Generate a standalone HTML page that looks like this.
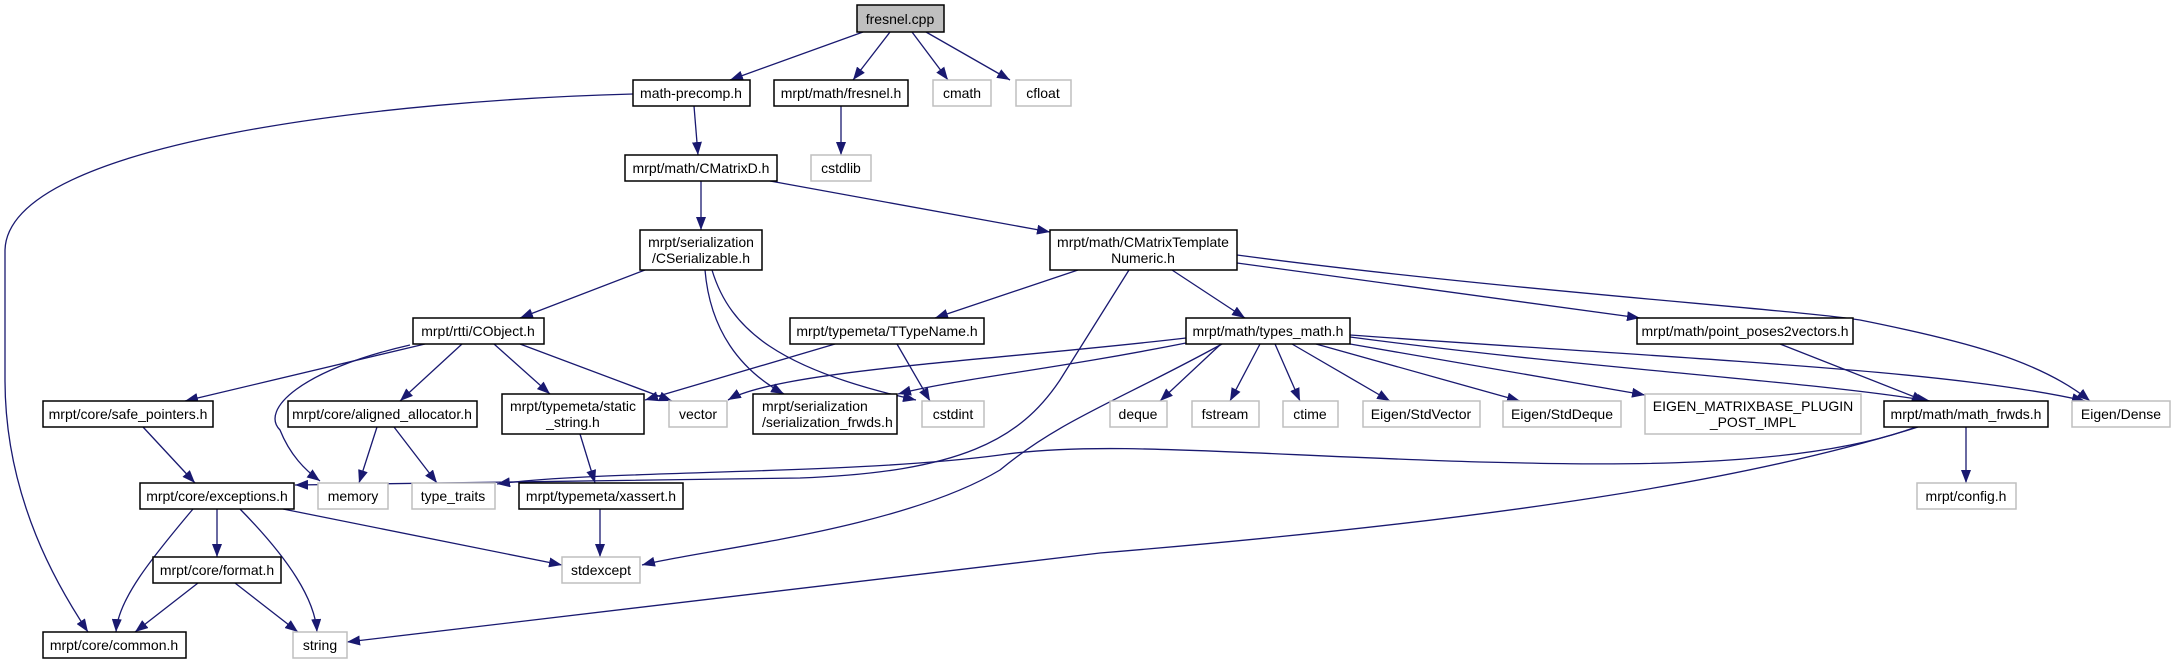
<!DOCTYPE html>
<html><head><meta charset="utf-8"><style>
html,body{margin:0;padding:0;background:#fff;}
svg{display:block;}
text{font-family:"Liberation Sans",sans-serif;font-size:14px;fill:#000;text-anchor:middle;}
.b{fill:#fff;stroke:#000;stroke-width:1.5;}
.g{fill:#fff;stroke:#bfbfbf;stroke-width:1.5;}
.e{fill:none;stroke:#191970;stroke-width:1.3;marker-end:url(#a);}
</style></head><body>
<svg width="2175" height="664" viewBox="0 0 2175 664" xmlns="http://www.w3.org/2000/svg">
<defs><marker id="a" markerUnits="userSpaceOnUse" markerWidth="14" markerHeight="10" refX="13" refY="5" orient="auto"><path d="M0,0 L13,5 L0,10 z" fill="#191970"/></marker></defs>
<!-- edges -->
<path class="e" d="M863,32 L730,80"/>
<path class="e" d="M890,32 L853,80"/>
<path class="e" d="M912,32 L948,80"/>
<path class="e" d="M926,32 L1010,80"/>
<path class="e" d="M633,94 C400,100 8,140 5,250 L5,380 C5,500 60,590 88,632"/>
<path class="e" d="M694,106 L698,155"/>
<path class="e" d="M841,106 L841,155"/>
<path class="e" d="M701,181 L701,230"/>
<path class="e" d="M770,181 L1050,232"/>
<path class="e" d="M645,270 L520,318"/>
<path class="e" d="M705,270 C710,330 740,370 784,394"/>
<path class="e" d="M712,270 C730,330 780,370 916,400"/>
<path class="e" d="M1078,270 L935,318"/>
<path class="e" d="M1129,270 L1060,380 C1020,440 960,472 800,478 L295,485"/>
<path class="e" d="M1172,270 L1245,318"/>
<path class="e" d="M1237,263 L1640,318"/>
<path class="e" d="M1237,255 C1500,290 1800,310 1860,320 C1960,340 2040,360 2090,401"/>
<path class="e" d="M425,344 L185,401"/>
<path class="e" d="M410,345 C300,370 260,410 280,430 C290,455 305,470 320,481"/>
<path class="e" d="M462,344 L400,401"/>
<path class="e" d="M494,344 L550,394"/>
<path class="e" d="M520,344 L672,401"/>
<path class="e" d="M835,344 L645,400"/>
<path class="e" d="M897,344 L930,401"/>
<path class="e" d="M1186,338 C1000,360 780,370 728,400"/>
<path class="e" d="M1186,343 C1050,370 950,380 898,394"/>
<path class="e" d="M1222,344 C1120,400 1060,420 1000,470 C900,530 700,550 642,565"/>
<path class="e" d="M1221,344 L1160,401"/>
<path class="e" d="M1260,344 L1230,401"/>
<path class="e" d="M1275,344 L1300,401"/>
<path class="e" d="M1292,344 L1390,401"/>
<path class="e" d="M1316,344 L1520,401"/>
<path class="e" d="M1350,344 L1645,395"/>
<path class="e" d="M1350,337 C1600,370 1800,380 1930,401"/>
<path class="e" d="M1350,335 C1700,360 1950,370 2085,401"/>
<path class="e" d="M1780,344 L1925,401"/>
<path class="e" d="M1916,427 C1800,470 1600,465 1480,462 C1250,455 1100,440 1000,455 C850,475 600,470 497,484"/>
<path class="e" d="M1918,427 C1750,480 1500,520 1100,553 L347,642"/>
<path class="e" d="M1966,427 L1966,483"/>
<path class="e" d="M143,427 L195,483"/>
<path class="e" d="M377,427 L359,483"/>
<path class="e" d="M394,427 L437,483"/>
<path class="e" d="M580,434 L595,483"/>
<path class="e" d="M193,509 C150,560 118,600 116,632"/>
<path class="e" d="M217,509 L217,557"/>
<path class="e" d="M240,509 C290,560 315,600 317,632"/>
<path class="e" d="M283,509 L562,565"/>
<path class="e" d="M600,509 L600,557"/>
<path class="e" d="M198,583 L135,632"/>
<path class="e" d="M235,583 L298,632"/>
<!-- nodes -->
<rect x="857" y="5" width="87" height="27" fill="#bfbfbf" stroke="#000" stroke-width="1.5"/><text x="900" y="24">fresnel.cpp</text>
<rect class="b" x="633" y="80" width="117" height="26"/><text x="691" y="98">math-precomp.h</text>
<rect class="b" x="774" y="80" width="134" height="26"/><text x="841" y="98">mrpt/math/fresnel.h</text>
<rect class="g" x="933" y="80" width="58" height="26"/><text x="962" y="98">cmath</text>
<rect class="g" x="1016" y="80" width="55" height="26"/><text x="1043" y="98">cfloat</text>
<rect class="b" x="625" y="155" width="152" height="26"/><text x="701" y="173">mrpt/math/CMatrixD.h</text>
<rect class="g" x="811" y="155" width="60" height="26"/><text x="841" y="173">cstdlib</text>
<rect class="b" x="640" y="230" width="122" height="40"/><text x="701" y="247">mrpt/serialization</text><text x="701" y="263">/CSerializable.h</text>
<rect class="b" x="1050" y="230" width="187" height="40"/><text x="1143" y="247">mrpt/math/CMatrixTemplate</text><text x="1143" y="263">Numeric.h</text>
<rect class="b" x="413" y="318" width="131" height="26"/><text x="478" y="336">mrpt/rtti/CObject.h</text>
<rect class="b" x="790" y="318" width="194" height="26"/><text x="887" y="336">mrpt/typemeta/TTypeName.h</text>
<rect class="b" x="1186" y="318" width="164" height="26"/><text x="1268" y="336">mrpt/math/types_math.h</text>
<rect class="b" x="1637" y="318" width="216" height="26"/><text x="1745" y="336">mrpt/math/point_poses2vectors.h</text>
<rect class="b" x="43" y="401" width="170" height="26"/><text x="128" y="419">mrpt/core/safe_pointers.h</text>
<rect class="b" x="288" y="401" width="189" height="26"/><text x="382" y="419">mrpt/core/aligned_allocator.h</text>
<rect class="b" x="502" y="394" width="142" height="40"/><text x="573" y="411">mrpt/typemeta/static</text><text x="573" y="427">_string.h</text>
<rect class="g" x="669" y="401" width="58" height="26"/><text x="698" y="419">vector</text>
<rect class="b" x="753" y="394" width="144" height="40"/><text x="762" y="411" style="text-anchor:start">mrpt/serialization</text><text x="762" y="427" style="text-anchor:start">/serialization_frwds.h</text>
<rect class="g" x="922" y="401" width="62" height="26"/><text x="953" y="419">cstdint</text>
<rect class="g" x="1110" y="401" width="57" height="26"/><text x="1138" y="419">deque</text>
<rect class="g" x="1192" y="401" width="67" height="26"/><text x="1225" y="419">fstream</text>
<rect class="g" x="1283" y="401" width="55" height="26"/><text x="1310" y="419">ctime</text>
<rect class="g" x="1363" y="401" width="117" height="26"/><text x="1421" y="419">Eigen/StdVector</text>
<rect class="g" x="1503" y="401" width="118" height="26"/><text x="1562" y="419">Eigen/StdDeque</text>
<rect class="g" x="1645" y="394" width="216" height="40"/><text x="1753" y="411">EIGEN_MATRIXBASE_PLUGIN</text><text x="1753" y="427">_POST_IMPL</text>
<rect class="b" x="1884" y="401" width="164" height="26"/><text x="1966" y="419">mrpt/math/math_frwds.h</text>
<rect class="g" x="2072" y="401" width="98" height="26"/><text x="2121" y="419">Eigen/Dense</text>
<rect class="b" x="140" y="483" width="154" height="26"/><text x="217" y="501">mrpt/core/exceptions.h</text>
<rect class="g" x="318" y="483" width="70" height="26"/><text x="353" y="501">memory</text>
<rect class="g" x="412" y="483" width="83" height="26"/><text x="453" y="501">type_traits</text>
<rect class="b" x="519" y="483" width="164" height="26"/><text x="601" y="501">mrpt/typemeta/xassert.h</text>
<rect class="g" x="1917" y="483" width="99" height="26"/><text x="1966" y="501">mrpt/config.h</text>
<rect class="b" x="153" y="557" width="128" height="26"/><text x="217" y="575">mrpt/core/format.h</text>
<rect class="g" x="562" y="557" width="78" height="26"/><text x="601" y="575">stdexcept</text>
<rect class="b" x="43" y="632" width="143" height="26"/><text x="114" y="650">mrpt/core/common.h</text>
<rect class="g" x="293" y="632" width="54" height="26"/><text x="320" y="650">string</text>
</svg>
</body></html>
